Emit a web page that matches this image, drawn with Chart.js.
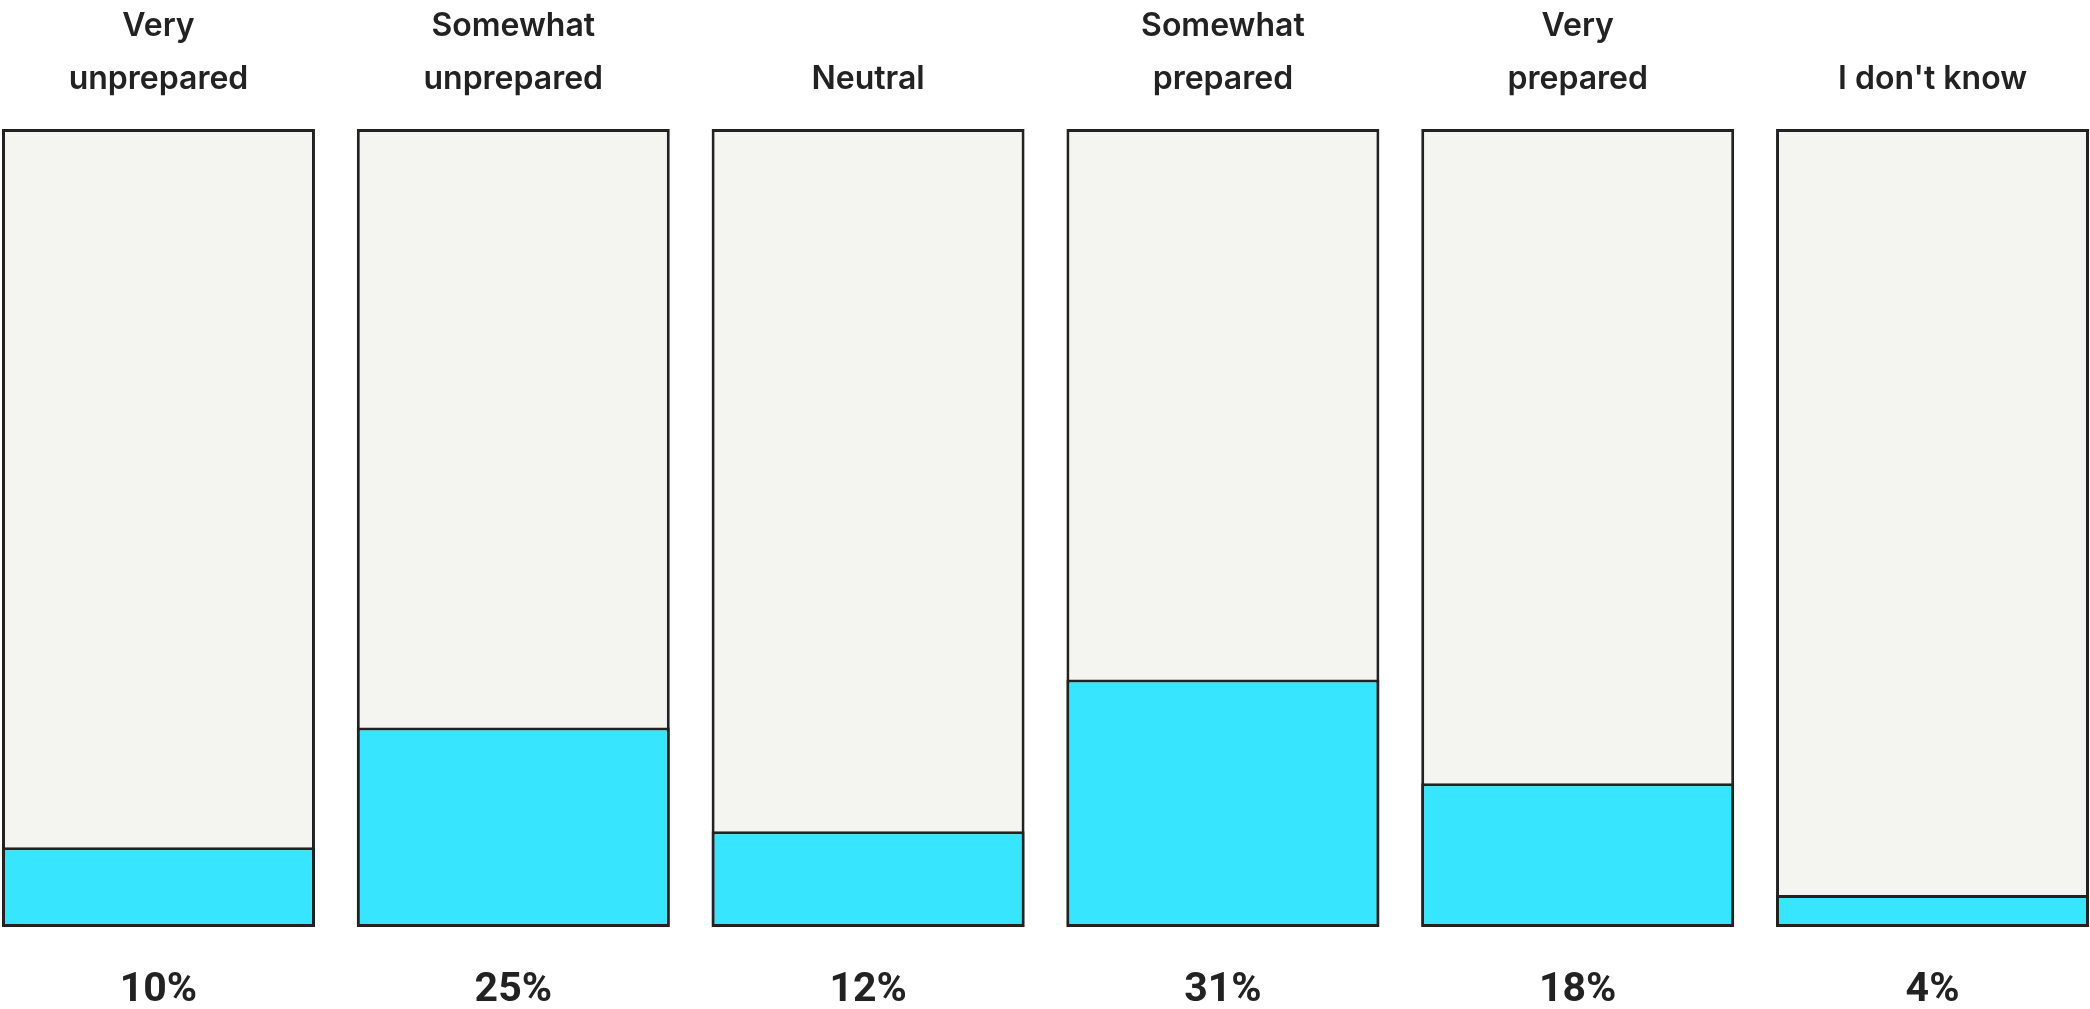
<!DOCTYPE html>
<html>
<head>
<meta charset="utf-8">
<script src="https://cdn.jsdelivr.net/npm/chart.js@4.4.1/dist/chart.umd.min.js"></script>
<style>
  html, body { margin: 0; padding: 0; background: #fff; }
  #wrap { width: 2090px; height: 1009px; }
</style>
</head>
<body>
<div id="wrap"><canvas id="prepChart"></canvas></div>
<script>
// survey answers, one column per answer
const answers = [
    ['Very', 'unprepared'],
    ['Somewhat', 'unprepared'],
    'Neutral',
    ['Somewhat', 'prepared'],
    ['Very', 'prepared'],
    "I don't know"
];
const shares = [10, 25, 12, 31, 18, 4];   // percent of respondents
const full = shares.map(() => 100);       // grey backing column

const barFill = 0.882; // share of each slot taken by the column
const positions = answers.map((a, i) => i);

const ink = '#222222';

// linear x axis with one tick per answer; columns run edge to edge
function answerAxis(position, padding, font, callback) {
    return {
        type: 'linear',
        position: position,
        offset: false,
        min: -barFill / 2,
        max: positions.length - 1 + barFill / 2,
        afterBuildTicks: axis => { axis.ticks = positions.map(v => ({ value: v })); },
        afterFit: axis => {
            axis.paddingLeft = 0;
            axis.paddingRight = 0;
            axis.height -= axis.options.ticks.padding; // padding gets counted twice
        },
        grid: { display: false, drawTicks: false },
        border: { display: false },
        ticks: { padding: padding, color: ink, font: font, callback: callback }
    };
}

const ctx = document.getElementById('prepChart').getContext('2d');
const prepChart = new Chart(ctx, {
    type: 'bar',
    data: {
        datasets: [{
            label: 'Share',
            data: positions.map(i => ({ x: i, y: shares[i] })),
            backgroundColor: '#38E5FF',
            borderColor: ink,
            borderWidth: 3,
            borderSkipped: false,
            grouped: false,
            order: 0
        }, {
            label: 'Total',
            data: positions.map(i => ({ x: i, y: full[i] })),
            backgroundColor: '#F4F4F0',
            borderColor: ink,
            borderWidth: 3,
            borderSkipped: false,
            grouped: false,
            order: 1
        }]
    },
    options: {
        responsive: true,
        maintainAspectRatio: false,
        animation: false,
        layout: { padding: { left: 2, right: 1, top: 0, bottom: 0 } },
        datasets: {
            bar: { categoryPercentage: 1, barPercentage: barFill }
        },
        plugins: {
            legend: { display: false },
            tooltip: { enabled: false }
        },
        scales: {
            x: answerAxis('bottom', 46,
                { family: 'Roboto, sans-serif', size: 41, weight: '700', lineHeight: 36 / 41 },
                v => shares[v] + '%'),
            x2: answerAxis('top', 23,
                { family: 'Inter, sans-serif', size: 32, weight: '600', lineHeight: 53 / 32 },
                v => answers[v]),
            y: {
                display: false,
                min: 0,
                max: 100
            }
        }
    }
});
</script>
</body>
</html>
